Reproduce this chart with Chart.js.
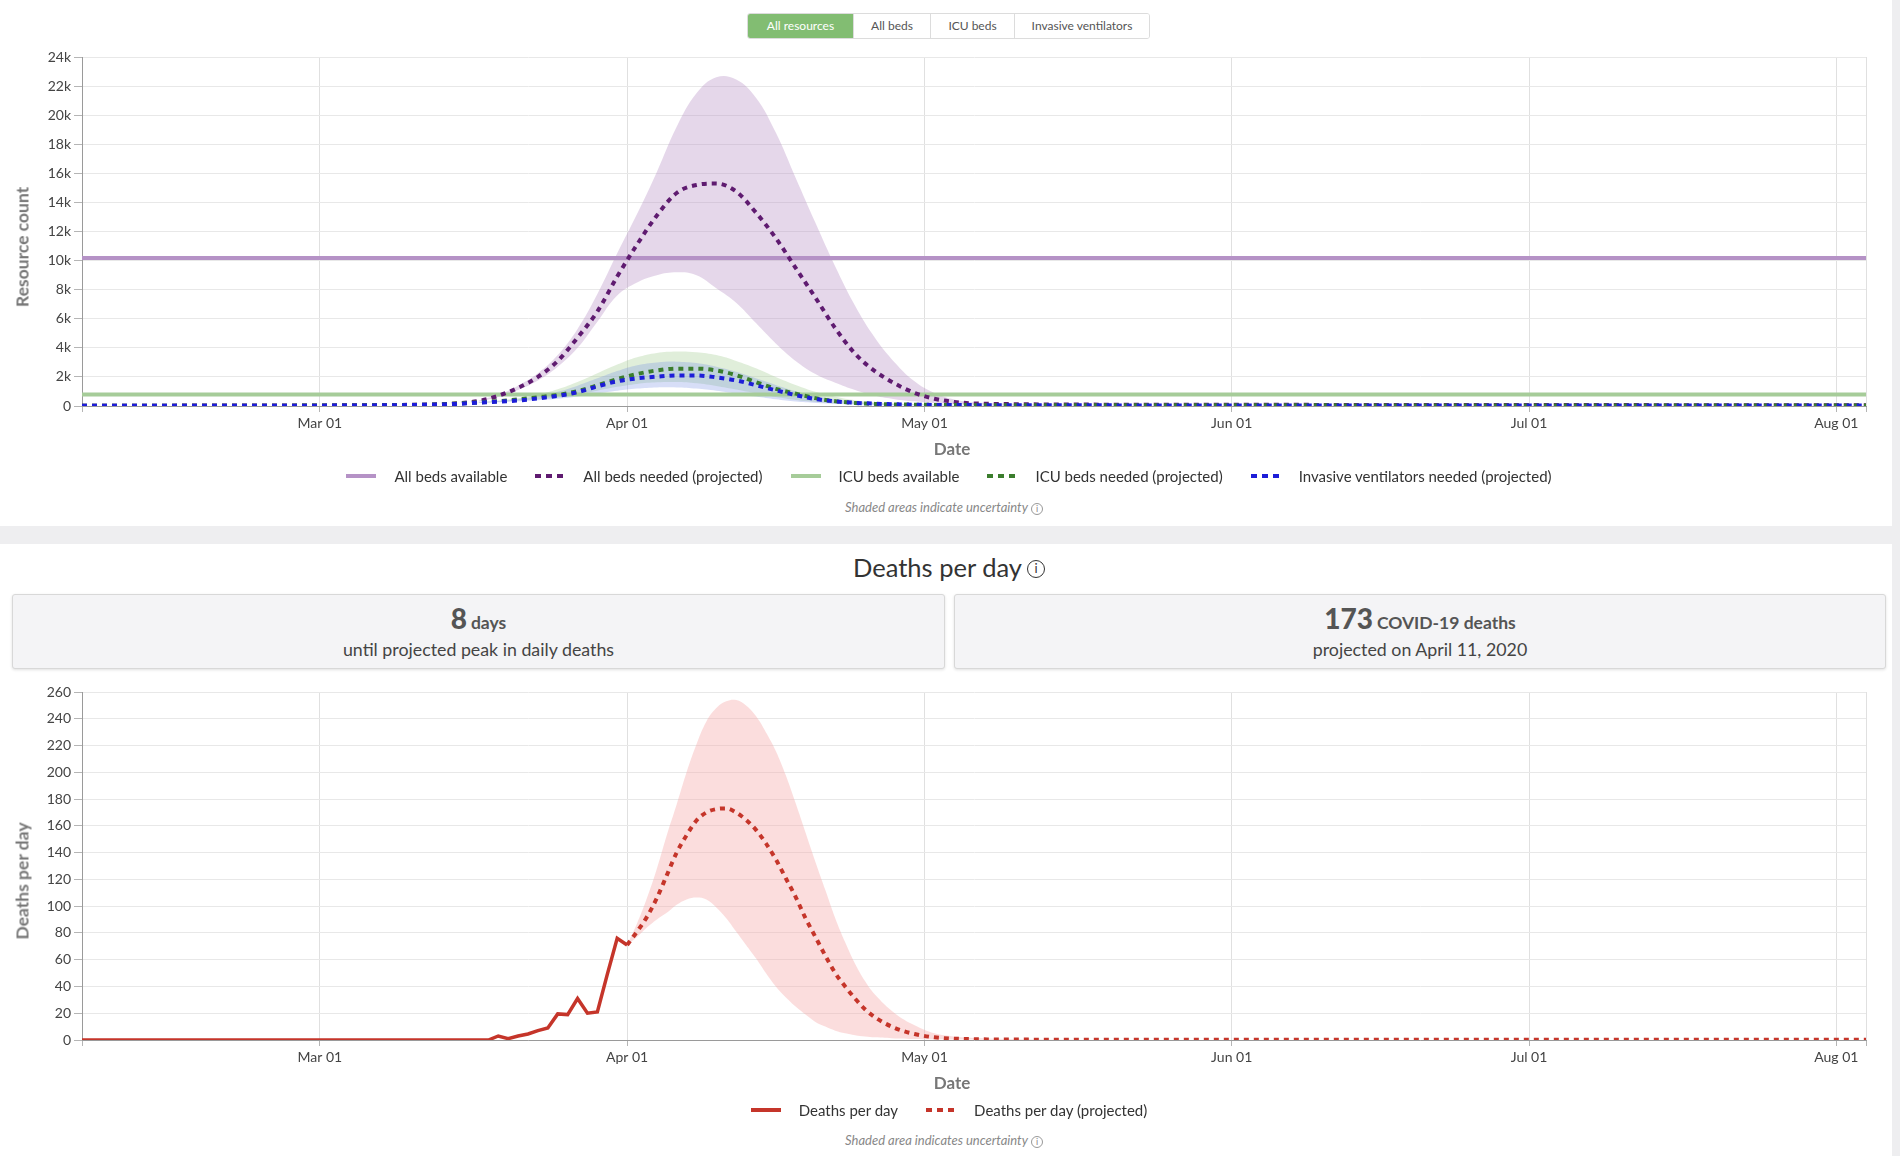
<!DOCTYPE html>
<html lang="en">
<head>
<meta charset="UTF-8">
<title>Hospital resource use and deaths per day</title>
<script src="https://cdn.jsdelivr.net/npm/chart.js"></script>
<style>
  body { margin: 0; width: 1900px; height: 1156px; background: #eeeef0; font-family: Lato, "Open Sans", sans-serif; position: relative; overflow: hidden; color: #333; }
  .card { position: absolute; left: 0; width: 1892px; background: #fff; }
  canvas { position: absolute; left: 0; }
  .toggle { position: absolute; left: 747px; top: 13px; height: 26px; display: flex; z-index: 2; border: 1px solid #dcdcdc; border-radius: 3px; overflow: hidden; box-sizing: border-box; }
  .toggle div { box-sizing: border-box; font-size: 12px; color: #555; line-height: 24px; text-align: center; border-left: 1px solid #dcdcdc; background: #fff; }
  .toggle div:first-child { border-left: none; }
  .toggle .on { background: #82bd72; color: #fff; }
  .ytitle { position: absolute; left: 22px; font-size: 17.5px; font-weight: 700; color: #777; white-space: nowrap; transform: translate(-50%, -50%) rotate(-90deg); }
  .xtitle { position: absolute; left: 952px; font-size: 17px; font-weight: 700; color: #777; transform: translate(-50%, -50%); }
  .legend { position: absolute; left: 0; width: 1898px; display: flex; justify-content: center; align-items: center; font-size: 15px; color: #333; }
  .legend .item { display: flex; align-items: center; margin: 0 14px; }
  .legend svg { margin-right: 18px; }
  .note { position: absolute; left: 0; width: 1888px; text-align: center; font-size: 13px; font-style: italic; color: #888; }
  .info { display: inline-block; box-sizing: border-box; border-radius: 50%; text-align: center; font-style: normal; vertical-align: middle; }
  .note .info { width: 12px; height: 12px; border: 1px solid #999; font-size: 9px; line-height: 10px; margin-left: 3px; }
  .title { position: absolute; left: 0; top: 552px; width: 1898px; text-align: center; font-size: 25.5px; line-height: 30px; color: #333; }
  .title .info { width: 18px; height: 18px; border: 1.5px solid #333; font-size: 13px; line-height: 15px; margin-left: 5px; position: relative; top: -2px; }
  .stat { position: absolute; top: 594px; height: 73px; background: #f4f4f6; border: 1px solid #d8d8d8; border-radius: 3px; box-shadow: 0 1px 3px rgba(0,0,0,0.12); text-align: center; color: #555; }
  .stat .big { margin-top: 8px; line-height: 30px; font-weight: 700; }
  .stat .big b { font-size: 28px; }
  .stat .big span { font-size: 17.5px; }
  .stat .sub { margin-top: 0; line-height: 22px; font-size: 17.8px; color: #444; }
</style>
</head>
<body>
  <div class="card" style="top:0;height:526px"></div>
  <div class="card" style="top:544px;height:612px"></div>

  <div class="toggle">
    <div class="on" style="width:105px">All resources</div>
    <div style="width:77px">All beds</div>
    <div style="width:84px">ICU beds</div>
    <div style="width:135px">Invasive ventilators</div>
  </div>

  <canvas id="resourceChart" width="1890" height="470" style="top:0"></canvas>
  <div class="ytitle" style="top:247px">Resource count</div>
  <div class="xtitle" style="top:448px">Date</div>
  <div class="legend" id="resourceLegend" style="top:466px;height:20px"></div>
  <div class="note" style="top:499px">Shaded areas indicate uncertainty<span class="info">i</span></div>

  <div class="title">Deaths per day<span class="info">i</span></div>
  <div class="stat" style="left:12px;width:931px">
    <div class="big"><b>8</b> <span>days</span></div>
    <div class="sub">until projected peak in daily deaths</div>
  </div>
  <div class="stat" style="left:954px;width:930px">
    <div class="big"><b>173</b> <span>COVID-19 deaths</span></div>
    <div class="sub">projected on April 11, 2020</div>
  </div>

  <canvas id="deathsChart" width="1890" height="424" style="top:680px"></canvas>
  <div class="ytitle" style="top:881px">Deaths per day</div>
  <div class="xtitle" style="top:1082px">Date</div>
  <div class="legend" id="deathsLegend" style="top:1100px;height:20px"></div>
  <div class="note" style="top:1132px">Shaded area indicates uncertainty<span class="info">i</span></div>

<script>
// x values are days since Feb 06, 2020 (Mar 01 = 24, Aug 04 = 180)
const monthTicks = [0, 24, 55, 85, 116, 146, 177, 180];
const monthLabels = ['', 'Mar 01', 'Apr 01', 'May 01', 'Jun 01', 'Jul 01', 'Aug 01', ''];

// resources chart
const bedsAvailable = 10180;
const icuAvailable = 790;
const projDays = [0, 8, 16, 24, 30, 34, 36, 38, 40, 42, 44, 46, 48, 50, 52, 54, 56, 58, 60, 62, 64, 66, 68, 70,
  72, 74, 76, 78, 80, 82, 84, 86, 88, 90, 95, 100, 120, 140, 160, 180];
const bedsNeeded = [20, 25, 30, 40, 60, 90, 120, 190, 340, 700, 1250, 2000, 3100, 4700, 6500, 8900, 11100, 13100, 14650, 15200, 15300, 14750, 13300, 11550,
  9500, 7450, 5350, 3600, 2400, 1550, 900, 500, 280, 180, 120, 100, 80, 70, 60, 60];
const icuNeeded = [15, 18, 22, 30, 50, 80, 110, 170, 250, 330, 450, 600, 760, 1020, 1420, 1850, 2200, 2450, 2570, 2570, 2450, 2120, 1640, 1180,
  850, 540, 330, 210, 145, 110, 90, 75, 65, 60, 55, 50, 45, 40, 40, 40];
const ventNeeded = [10, 12, 15, 25, 45, 75, 100, 150, 230, 290, 380, 520, 700, 950, 1350, 1700, 1900, 2020, 2100, 2100, 1970, 1760, 1430, 1080,
  750, 480, 320, 220, 160, 120, 90, 75, 65, 60, 50, 45, 40, 35, 35, 35];

const bandDays = [40, 42, 44, 46, 48, 50, 52, 54, 56, 58, 60, 62, 64, 66, 68, 70, 72, 74, 76, 78, 80, 82, 84, 86, 88, 90, 95, 100];
const bedsHi = [380, 780, 1400, 2250, 3500, 5300, 7700, 10500, 13200, 16100, 19200, 21500, 22600, 22450, 21200, 18800, 15700, 12600, 9600, 6900, 4700, 3000, 1700, 900, 450, 250, 130, 100];
const bedsLo = [300, 620, 1100, 1750, 2700, 4000, 5800, 7600, 8500, 9000, 9200, 9000, 8100, 7100, 5700, 4300, 3100, 2200, 1600, 1100, 700, 470, 320, 200, 130, 100, 80, 70];
const icuHi = [280, 380, 540, 780, 1150, 1650, 2250, 2850, 3350, 3650, 3750, 3700, 3500, 3100, 2600, 2000, 1450, 980, 640, 400, 260, 180, 130, 100, 85, 75, 65, 60];
const icuLo = [220, 280, 370, 470, 580, 780, 1050, 1320, 1520, 1630, 1650, 1560, 1380, 1130, 870, 620, 420, 280, 190, 130, 100, 80, 70, 60, 55, 50, 50, 50];
const ventHi = [260, 340, 470, 680, 980, 1400, 1900, 2400, 2800, 3000, 3050, 2950, 2700, 2350, 1900, 1450, 1020, 680, 440, 290, 190, 140, 100, 80, 70, 60, 55, 50];
const ventLo = [200, 250, 320, 400, 500, 660, 860, 1050, 1200, 1280, 1280, 1200, 1050, 850, 650, 460, 310, 210, 140, 100, 75, 60, 50, 45, 45, 40, 40, 40];

// deaths chart
const obsDays = [0, 41, 42, 43, 44, 45, 46, 47, 48, 49, 50, 51, 52, 53, 54, 55];
const obsDeaths = [0, 0, 3, 1, 3, 4.5, 7, 9, 19.5, 19, 31, 20, 21, 49, 76, 71];
const deathDays = [55, 56, 57, 58, 59, 60, 61, 62, 63, 64, 65, 66, 67, 68, 69, 70, 71, 72, 73, 74, 75, 76, 77, 78, 79, 80,
  82, 84, 86, 88, 90, 95, 100, 180];
const deathProj = [71, 81, 92, 106, 123, 140, 153, 164, 170, 172.5, 173, 170, 164.5, 157, 147, 135, 121, 107, 91, 77, 63, 50, 40, 31, 23, 17,
  9, 4.5, 2, 1, 0.6, 0.3, 0.2, 0.1];
const deathBandDays = [55, 56, 57, 58, 59, 60, 61, 62, 63, 64, 65, 66, 67, 68, 69, 70, 71, 72, 73, 74, 75, 76, 77, 78, 79, 80,
  82, 84, 86, 88, 90, 95, 100];
const deathHi = [71, 87, 106, 128, 153, 176, 200, 221, 238, 248, 253, 254, 250, 242, 230, 216, 198, 177, 155, 133, 112, 91, 73, 57, 44, 34,
  20, 11, 5, 2.6, 1.5, 0.6, 0.3];
const deathLo = [71, 77, 84, 90, 95, 101, 105, 106.5, 105, 99, 91, 81, 71, 61, 50, 40, 32, 25, 19, 13.5, 10, 7, 5, 3.6, 2.7, 2,
  1.2, 0.8, 0.5, 0.3, 0.2, 0.1, 0.1];

Chart.defaults.font.family = 'Lato';
Chart.defaults.color = '#444';

function pts(days, vals) {
  return days.map((d, i) => ({ x: d, y: vals[i] }));
}

function flat(value) {
  return [{ x: 0, y: value }, { x: 180, y: value }];
}

function line(label, data, color, dashed, order) {
  return {
    label: label,
    data: data,
    borderColor: color,
    borderWidth: 4,
    borderDash: dashed ? [5, 5] : [],
    pointRadius: 0,
    fill: false,
    cubicInterpolationMode: 'monotone',
    order: order
  };
}

function band(data, color, isUpper, order) {
  return {
    data: data,
    borderColor: 'rgba(0,0,0,0)',
    borderWidth: 1,
    pointRadius: 0,
    backgroundColor: color,
    fill: isUpper ? '-1' : false,
    tension: 0.4,
    order: order
  };
}

function chartOptions(yMax, yStep, yFormat, padTop) {
  return {
    responsive: false,
    animation: false,
    events: [],
    layout: { padding: { top: padTop, right: 24, bottom: 0, left: 0 } },
    plugins: { legend: { display: false }, tooltip: { enabled: false } },
    scales: {
      x: {
        type: 'linear',
        min: 0,
        max: 180,
        afterBuildTicks: axis => { axis.ticks = monthTicks.map(v => ({ value: v })); },
        afterFit: axis => { axis.height = 64; },
        ticks: {
          autoSkip: false,
          maxRotation: 0,
          padding: 3,
          font: { size: 14 },
          color: '#444',
          callback: value => monthLabels[monthTicks.indexOf(value)]
        },
        grid: { color: '#e0e0e0', tickColor: '#b5b5b5', tickLength: 6 },
        border: { color: '#9a9a9a' }
      },
      y: {
        min: 0,
        max: yMax,
        afterFit: axis => { axis.width = 82; },
        ticks: { stepSize: yStep, padding: 3, font: { size: 14 }, color: '#444', callback: yFormat },
        grid: { color: '#e8e8e8', tickColor: '#b5b5b5', tickLength: 8 },
        border: { color: '#9a9a9a' }
      }
    }
  };
}

function buildLegend(el, datasets) {
  datasets.filter(ds => ds.label).forEach(ds => {
    const item = document.createElement('span');
    item.className = 'item';
    const dash = ds.borderDash.length ? ' stroke-dasharray="6 5"' : '';
    item.innerHTML = '<svg width="30" height="8"><line x1="0" y1="4" x2="30" y2="4" stroke="' + ds.borderColor +
      '" stroke-width="4"' + dash + '/></svg><span>' + ds.label + '</span>';
    el.appendChild(item);
  });
}

const resourceSets = [
  line('All beds available', flat(bedsAvailable), '#b592c6', false, 4),
  line('All beds needed (projected)', pts(projDays, bedsNeeded), '#5f1b70', true, 2),
  line('ICU beds available', flat(icuAvailable), '#a6cc99', false, 3),
  line('ICU beds needed (projected)', pts(projDays, icuNeeded), '#3b7d2d', true, 1),
  line('Invasive ventilators needed (projected)', pts(projDays, ventNeeded), '#1d1dd8', true, 0),
  band(pts(bandDays, bedsLo), 'rgba(0,0,0,0)', false, 10),
  band(pts(bandDays, bedsHi), 'rgba(180, 140, 195, 0.35)', true, 10),
  band(pts(bandDays, icuLo), 'rgba(0,0,0,0)', false, 9),
  band(pts(bandDays, icuHi), 'rgba(165, 205, 150, 0.35)', true, 9),
  band(pts(bandDays, ventLo), 'rgba(0,0,0,0)', false, 8),
  band(pts(bandDays, ventHi), 'rgba(110, 135, 225, 0.28)', true, 8)
];

new Chart(document.getElementById('resourceChart'), {
  type: 'line',
  data: { datasets: resourceSets },
  options: chartOptions(24000, 2000, v => v === 0 ? '0' : (v / 1000) + 'k', 57)
});
buildLegend(document.getElementById('resourceLegend'), resourceSets);

const observed = line('Deaths per day', pts(obsDays, obsDeaths), '#c5352a', false, 0);
observed.cubicInterpolationMode = 'default';
observed.tension = 0;
observed.borderWidth = 3.5;

const deathSets = [
  observed,
  line('Deaths per day (projected)', pts(deathDays, deathProj), '#c5352a', true, 1),
  band(pts(deathBandDays, deathLo), 'rgba(0,0,0,0)', false, 5),
  band(pts(deathBandDays, deathHi), 'rgba(245, 165, 165, 0.38)', true, 5)
];

new Chart(document.getElementById('deathsChart'), {
  type: 'line',
  data: { datasets: deathSets },
  options: chartOptions(260, 20, v => v, 12)
});
buildLegend(document.getElementById('deathsLegend'), deathSets);
</script>
</body>
</html>
